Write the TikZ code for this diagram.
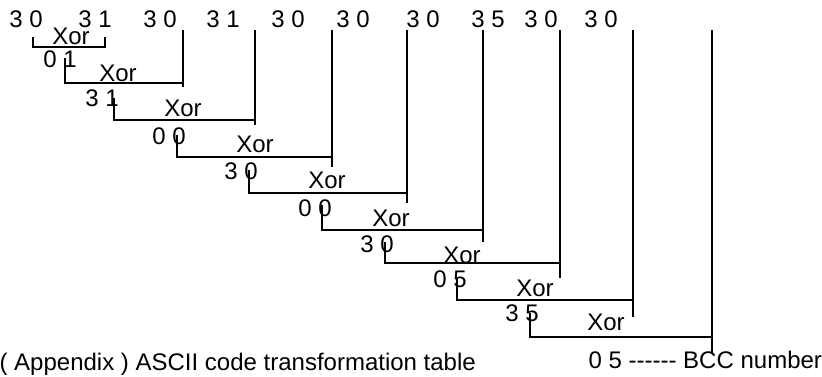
\documentclass[tikz,border=0pt]{standalone}
\usepackage{fontspec}
\setmainfont{Liberation Sans}
\usetikzlibrary{positioning}

\begin{document}
\begin{tikzpicture}[x=0.75pt, y=-0.75pt, line width=0.9pt,
  font=\fontsize{18}{21}\selectfont,
  lbl/.style={inner sep=0pt, anchor=base}]

% page frame
\useasboundingbox (0,0) rectangle (822,377);

% bytes of the frame along the top
\foreach \n/\x/\val in {0/26/3 0, 1/95/3 1, 2/160/3 0, 3/223/3 1, 4/288/3 0,
                        5/353/3 0, 6/423/3 0, 7/488/3 5, 8/541/3 0, 9/601/3 0} {
    \node[lbl] (t\n) at (\x,28) {\val};
}

% first Xor: bracket under the two first bytes
\draw (33,37) -- (33,47) -- (105,47) -- (105,37);
\node[lbl] (x0) at (71,45) {Xor};
\node[lbl] (r0) at (60,68) {0 1};

% the next Xor steps: tick from last result, line down from next byte
\foreach \i/\tx/\ty/\hy/\lx/\ly/\xx/\xy in {1/65/58/83/183/87/118/82,
        2/114/98/120/255/125/183/117, 3/177/135/157/332/167/255/153,
        4/249/170/193/407/203/327/189, 5/322/205/230/483/242/391/227,
        6/385/242/263/560/278/462/264, 7/457/278/300/633/317/535/297,
        8/530/313/337/712/353/606/331} {
    \coordinate (top\i) at (\lx,30);
    \coordinate (end\i) at (\lx,\ly);
    \draw (top\i) -- (end\i);
    \draw (\tx,\ty) |- (\lx,\hy);
    \node[lbl] (x\i) at (\xx,\xy) {Xor};
}

% intermediate results
\foreach \i/\x/\y/\val in {1/102/107/3 1, 2/169/145/0 0, 3/241/180/3 0,
                           4/315/217/0 0, 5/377/253/3 0, 6/450/288/0 5,
                           7/522/322/3 5} {
    \node[lbl] (r\i) at (\x,\y) {\val};
}

% final value
\node[lbl, anchor=base west] (r8) at (588,369)
    {0 5 -\kern0pt-\kern0pt-\kern0pt-\kern0pt-\kern0pt- BCC number};

% caption
\node[lbl, anchor=base west] (cap) at (-1,371)
    {( Appendix ) ASCII code transformation table};

\end{tikzpicture}
\end{document}
